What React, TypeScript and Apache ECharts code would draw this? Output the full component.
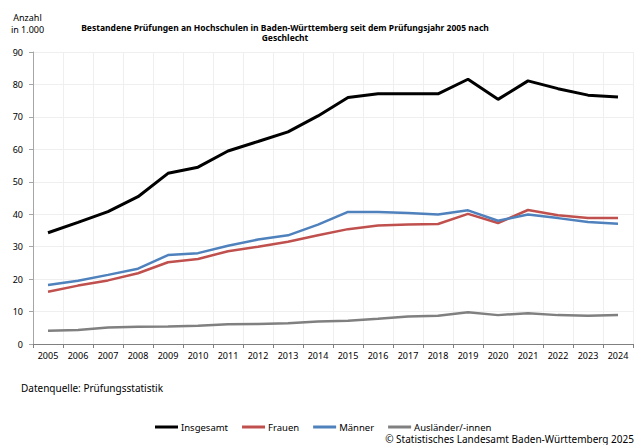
import React, { useEffect, useRef } from "react";
import * as echarts from "echarts";

const years = ["2005","2006","2007","2008","2009","2010","2011","2012","2013","2014","2015","2016","2017","2018","2019","2020","2021","2022","2023","2024"];
const insgesamt = [34.3, 37.5, 40.8, 45.4, 52.6, 54.5, 59.5, 62.4, 65.4, 70.3, 76.0, 77.1, 77.1, 77.1, 81.6, 75.4, 81.1, 78.7, 76.7, 76.1];
const frauen = [16.1, 18.0, 19.6, 21.8, 25.2, 26.2, 28.6, 30.0, 31.5, 33.5, 35.4, 36.5, 36.8, 37.0, 40.1, 37.3, 41.3, 39.7, 38.8, 38.8];
const maenner = [18.2, 19.5, 21.3, 23.2, 27.4, 28.0, 30.3, 32.2, 33.5, 36.8, 40.7, 40.7, 40.4, 39.9, 41.2, 38.0, 39.9, 38.8, 37.6, 37.1];
const auslaender = [4.1, 4.3, 5.1, 5.3, 5.4, 5.6, 6.1, 6.2, 6.4, 6.9, 7.2, 7.8, 8.5, 8.7, 9.8, 8.9, 9.5, 8.9, 8.7, 8.9];
const seriesNames = ["Insgesamt", "Frauen", "Männer", "Ausländer/-innen"];
const seriesColors = ["#000000", "#c0504d", "#4f81bd", "#808080"];

const FONT = "'Noto Sans', 'Liberation Sans', sans-serif";

export default function App() {
  const ref = useRef<HTMLDivElement>(null);
  useEffect(() => {
    if (!ref.current) return;
    const chart = echarts.init(ref.current, null, { renderer: "svg" });
    const data = [insgesamt, frauen, maenner, auslaender];
    chart.setOption({
      animation: false,
      backgroundColor: "#ffffff",
      textStyle: { fontFamily: FONT },
      title: {
        text: "Bestandene Prüfungen an Hochschulen in Baden-Württemberg seit dem Prüfungsjahr 2005 nach\nGeschlecht",
        left: 280,
        top: 17,
        textAlign: "center",
        textStyle: { fontFamily: FONT, fontSize: 8.5, fontWeight: "bold", color: "#000", lineHeight: 10 },
      },
      grid: { left: 33, right: 3, top: 52, bottom: 101, containLabel: false },
      xAxis: {
        type: "category",
        data: years,
        boundaryGap: true,
        axisLine: { show: true, lineStyle: { color: "#808080", width: 1 } },
        axisTick: { show: true, alignWithLabel: false, length: 4, lineStyle: { color: "#808080" } },
        axisLabel: { fontFamily: FONT, fontSize: 9, color: "#000", margin: 7, interval: 0 },
        splitLine: { show: true, lineStyle: { color: "#efefef", width: 1 } },
      },
      yAxis: {
        type: "value",
        min: 0,
        max: 90,
        interval: 10,
        axisLine: { show: true, lineStyle: { color: "#a6a6a6", width: 1 } },
        axisTick: { show: true, length: 4, lineStyle: { color: "#a6a6a6" } },
        axisLabel: { fontFamily: FONT, fontSize: 9, color: "#000", margin: 10 },
        splitLine: { show: true, lineStyle: { color: "#efefef", width: 1 } },
      },
      legend: {
        left: 150,
        top: 417,
        icon: "rect",
        itemWidth: 23,
        itemHeight: 3,
        itemGap: 14,
        textStyle: { fontFamily: FONT, fontSize: 9.5, color: "#000", padding: [0, 0, 0, -2] },
        data: seriesNames,
      },
      graphic: [
        { type: "text", x: 27.5, y: 17, style: { text: "Anzahl", font: `9px ${FONT}`, fill: "#000", textAlign: "center", textVerticalAlign: "middle" } },
        { type: "text", x: 27.5, y: 29, style: { text: "in 1.000", font: `9px ${FONT}`, fill: "#000", textAlign: "center", textVerticalAlign: "middle" } },
        { type: "text", x: 21, y: 388, style: { text: "Datenquelle: Prüfungsstatistik", font: `10px ${FONT}`, fill: "#000", textAlign: "left", textVerticalAlign: "middle" } },
        { type: "text", x: 634, y: 439, style: { text: "© Statistisches Landesamt Baden-Württemberg 2025", font: `10px ${FONT}`, fill: "#000", textAlign: "right", textVerticalAlign: "middle" } },
      ],
      series: seriesNames.map((name, i) => ({
        name,
        type: "line",
        data: data[i],
        symbol: "none",
        color: seriesColors[i],
        lineStyle: { color: seriesColors[i], width: i === 0 ? 3 : 2.5 },
        itemStyle: { color: seriesColors[i] },
      })),
    });
    return () => chart.dispose();
  }, []);
  return <div ref={ref} style={{ width: 636, height: 445, position: "absolute", left: 0, top: 0 }} />;
}
